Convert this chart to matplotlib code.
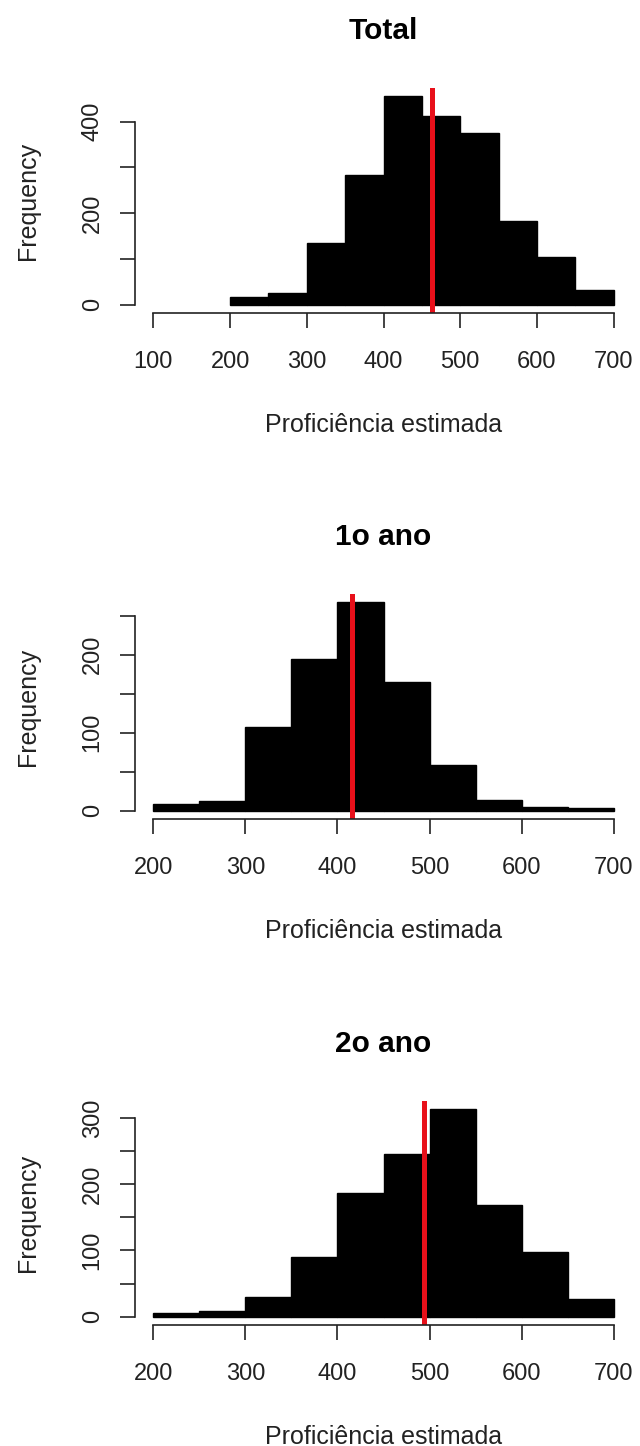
import numpy as np
import matplotlib.pyplot as plt

# classes de 50 pontos
bins = [200, 250, 300, 350, 400, 450, 500, 550, 600, 650, 700]

# frequencias
freq_total = [16, 25, 134, 284, 455, 412, 375, 183, 104, 33]
freq_ano1 = [8, 13, 107, 194, 267, 165, 58, 14, 5, 3]
freq_ano2 = [6, 9, 29, 90, 187, 246, 314, 169, 98, 27]

# medias (linha vermelha)
media_total = 463
media_ano1 = 416
media_ano2 = 494

titles = ["Total", "1o ano", "2o ano"]
xaxis_ranges = [(100, 700), (200, 700), (200, 700)]
yticks_all = [[0, 100, 200, 300, 400],
              [0, 50, 100, 150, 200, 250],
              [0, 50, 100, 150, 200, 250, 300]]
ylabels_shown = [[0, 200, 400], [0, 100, 200], [0, 100, 200, 300]]

plt.rcParams['font.family'] = ['Liberation Sans', 'DejaVu Sans']

fig = plt.figure(figsize=(6.4, 14.46), dpi=100)

W, H = 640, 1446
left, right = 135, 632
tops = [88, 594, 1100.5]
bottoms = [313, 819, 1325]

panels = [(freq_total, media_total), (freq_ano1, media_ano1), (freq_ano2, media_ano2)]

for i, (freq, media) in enumerate(panels):
    ax = fig.add_axes([left / W, 1 - bottoms[i] / H,
                       (right - left) / W, (bottoms[i] - tops[i]) / H])

    edges = np.array(bins)
    ax.bar(edges[:-1], freq, width=np.diff(edges), align='edge',
           color='black', edgecolor='black', linewidth=1)
    ax.axvline(media, color='#e8101a', linewidth=3.6)

    x0, x1 = xaxis_ranges[i]
    dx = (x1 - x0) * 0.04
    ax.set_xlim(x0 - dx, x1 + dx)
    ymax = max(freq)
    ax.set_ylim(-0.04 * ymax, 1.04 * ymax)

    for s in ['top', 'right']:
        ax.spines[s].set_visible(False)
    ax.spines['left'].set_bounds(yticks_all[i][0], yticks_all[i][-1])
    ax.spines['bottom'].set_bounds(x0, x1)
    for s in ['left', 'bottom']:
        ax.spines[s].set_linewidth(1.2)
        ax.spines[s].set_color('#222222')

    ax.set_xticks(np.arange(x0, x1 + 1, 100))
    ax.set_yticks(yticks_all[i])
    ax.set_yticklabels([str(v) if v in ylabels_shown[i] else '' for v in yticks_all[i]])

    ax.tick_params(axis='both', direction='out', length=10.5, width=1.2,
                   color='#222222', labelsize=17, labelcolor='#222222')
    ax.tick_params(axis='x', pad=16.5)
    ax.tick_params(axis='y', pad=12)
    for lab in ax.get_yticklabels():
        lab.set_rotation(90)
        lab.set_va('center')
        lab.set_ha('right')

    ax.set_xlabel("Proficiência estimada", fontsize=18, labelpad=29, color='#222222')
    ax.set_ylabel("Frequency", fontsize=18, labelpad=30, color='#222222')
    ax.set_title(titles[i], fontsize=21.5, fontweight='bold', pad=35)

fig.savefig("out.png", dpi=100)
